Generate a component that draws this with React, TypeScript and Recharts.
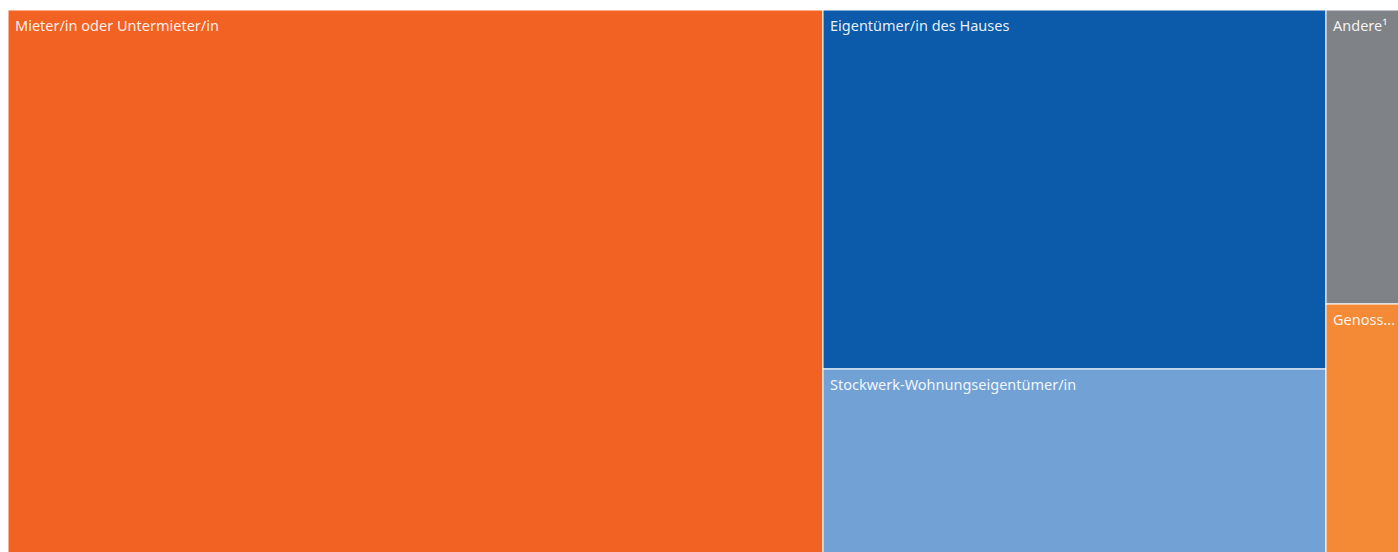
import React from 'react';
import { Treemap } from 'recharts';

const categories = [
  'Mieter/in oder Untermieter/in',
  'Eigentümer/in des Hauses',
  'Stockwerk-Wohnungseigentümer/in',
  'Andere¹',
  'Genossenschafter/in',
];
const shares = [58.4, 23.6, 12.4, 3.0, 2.6];

const COLORS: Record<string, string> = {
  'Mieter/in oder Untermieter/in': '#F26222',
  'Eigentümer/in des Hauses': '#0B5BAA',
  'Stockwerk-Wohnungseigentümer/in': '#72A2D5',
  'Andere¹': '#7F8286',
  'Genossenschafter/in': '#F48A36',
};

const data = categories.map((name, i) => ({ name, size: shares[i] }));

const FONT_SIZE = 14.5;
const FONT = `${FONT_SIZE}px "Noto Sans"`;
let ctx: CanvasRenderingContext2D | null = null;
const measure = (s: string) => {
  if (!ctx) ctx = document.createElement('canvas').getContext('2d');
  if (!ctx) return s.length * 7.2;
  ctx.font = FONT;
  return ctx.measureText(s).width;
};

const fitLabel = (label: string, maxW: number) => {
  if (measure(label) <= maxW) return label;
  let s = label;
  while (s.length > 1 && measure(s + '...') > maxW) s = s.slice(0, -1);
  return s + '...';
};

const Cell = (props: any) => {
  const { x, y, width, height, name, depth } = props;
  if (depth !== 1) return <g />;
  return (
    <g>
      <rect x={x} y={y} width={width} height={height} fill={COLORS[name]} stroke="#fff" strokeWidth={1} />
      <text
        x={x + 7}
        y={y + 21}
        fill="#fff"
        fillOpacity={0.92}
        fontSize={FONT_SIZE}
        fontFamily='"Noto Sans", sans-serif'
        stroke="none"
      >
        {fitLabel(name, width - 14)}
      </text>
    </g>
  );
};

export default function App() {
  return (
    <div style={{ position: 'absolute', left: 8, top: 10 }}>
      <style>{'html { overflow: hidden; } body { margin: 8px 0 0 8px; }'}</style>
      <Treemap
        width={1396}
        height={548}
        data={data}
        dataKey="size"
        nameKey="name"
        stroke="#fff"
        content={<Cell />}
        isAnimationActive={false}
      />
    </div>
  );
}
